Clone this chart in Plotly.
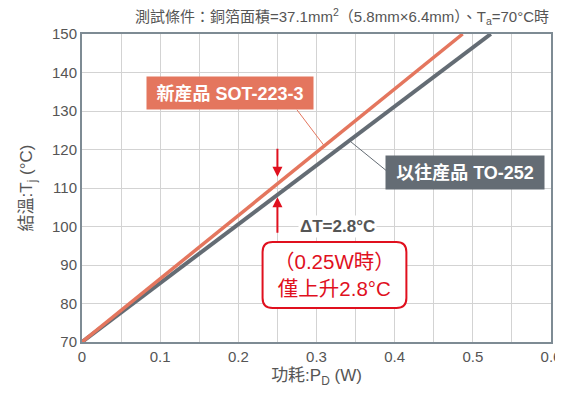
import plotly.graph_objects as go

# Data
pd_w = [0.0, 0.487]          # SOT-223-3 power (W)
tj_new = [70, 150]           # junction temperature (°C)
pd_w_old = [0.0, 0.523]      # TO-252 power (W)
tj_old = [70, 150]
x_ticks = [0, 0.1, 0.2, 0.3, 0.4, 0.5, 0.6]
y_ticks = [70, 80, 90, 100, 110, 120, 130, 140, 150]

ORANGE = "#E4765E"
GRAY = "#646C74"
RED = "#E0101E"
TXT = "#555555"
FONT = "Liberation Sans, Arial, Noto Sans CJK TC, sans-serif"

slope_new = (tj_new[1] - tj_new[0]) / (pd_w[1] - pd_w[0])
slope_old = (tj_old[1] - tj_old[0]) / (pd_w_old[1] - pd_w_old[0])

fig = go.Figure()
fig.add_trace(go.Scatter(x=pd_w_old, y=tj_old, mode="lines",
                         line=dict(color=GRAY, width=4), showlegend=False))
fig.add_trace(go.Scatter(x=pd_w, y=tj_new, mode="lines",
                         line=dict(color=ORANGE, width=3.5), showlegend=False))

# leader lines
xo = 0.31
fig.add_shape(type="line", x0=0.275, y0=130.3, x1=xo, y1=70 + slope_new * xo,
              line=dict(color=ORANGE, width=1))
xg = 0.342
fig.add_shape(type="line", x0=0.39, y0=114.4, x1=xg, y1=70 + slope_old * xg,
              line=dict(color=GRAY, width=1))

# label boxes
fig.add_annotation(x=0.1895, y=134.7, text="<b>新産品 SOT-223-3</b>", showarrow=False,
                   bgcolor=ORANGE, width=166, height=32, borderpad=0,
                   font=dict(color="white", size=18, family=FONT))
fig.add_annotation(x=0.4905, y=114.0, text="<b>以往産品 TO-252</b>", showarrow=False,
                   bgcolor=GRAY, width=158, height=33, borderpad=0,
                   font=dict(color="white", size=18, family=FONT))

# arrows
fig.add_annotation(x=0.25, y=112.9, ax=0.25, ay=120.6, axref="x", ayref="y",
                   showarrow=True, arrowhead=2, arrowsize=1, arrowwidth=2,
                   arrowcolor=RED, text="")
fig.add_annotation(x=0.25, y=107.6, ax=0.25, ay=98.0, axref="x", ayref="y",
                   showarrow=True, arrowhead=2, arrowsize=1, arrowwidth=2,
                   arrowcolor=RED, text="")

fig.add_annotation(x=0.327, y=100.1, text="<b>ΔT=2.8°C</b>", showarrow=False,
                   bgcolor="white", borderpad=1,
                   font=dict(color=TXT, size=17, family=FONT))

# rounded red box
x0, x1, y0, y1 = 0.231, 0.415, 78.8, 96.0
rx, ry = 0.0128, 2.6
path = (f"M {x0+rx},{y0} L {x1-rx},{y0} Q {x1},{y0} {x1},{y0+ry} "
        f"L {x1},{y1-ry} Q {x1},{y1} {x1-rx},{y1} L {x0+rx},{y1} "
        f"Q {x0},{y1} {x0},{y1-ry} L {x0},{y0+ry} Q {x0},{y0} {x0+rx},{y0} Z")
fig.add_shape(type="path", path=path, xref="x", yref="y",
              line=dict(color=RED, width=2), fillcolor="white")
fig.add_annotation(x=(x0 + x1) / 2, y=(y0 + y1) / 2,
                   text="（0.25W時）<br>僅上升2.8°C", showarrow=False,
                   font=dict(color=RED, size=20.5, family=FONT))

# condition text
fig.add_annotation(xref="paper", yref="paper", x=1.0, y=1.0, yshift=18,
                   xanchor="right", yanchor="middle", showarrow=False,
                   text="測試條件：銅箔面積=37.1mm<sup>2</sup>（5.8mm×6.4mm）、T<sub>a</sub>=70°C時",
                   font=dict(color=TXT, size=15, family=FONT))

fig.update_xaxes(range=[0, 0.6], tickvals=x_ticks, ticktext=[f"{v:g}" for v in x_ticks],
                 showgrid=True, gridcolor="#D3D3D3", gridwidth=1,
                 minor=dict(dtick=0.05, showgrid=True, gridcolor="#D3D3D3", gridwidth=1),
                 showline=True, linecolor="#7E8B94", linewidth=2, mirror=True,
                 zeroline=False, ticks="", automargin=False, ticklabeloverflow="allow",
                 tickfont=dict(color=TXT, size=15, family=FONT),
                 title=dict(text="功耗:P<sub>D</sub> (W)",
                            font=dict(color=TXT, size=17, family=FONT)))
fig.update_yaxes(range=[70, 150], tickvals=y_ticks,
                 showgrid=True, gridcolor="#D3D3D3", gridwidth=1,
                 showline=True, linecolor="#7E8B94", linewidth=2, mirror=True,
                 zeroline=False, ticks="", automargin=False,
                 tickfont=dict(color=TXT, size=15, family=FONT),
                 title=dict(text="結溫:T<sub>j</sub> (°C)",
                            font=dict(color=TXT, size=17, family=FONT)))

# page body adds an 8px offset; extra right margin keeps the last tick label inside the svg
fig.update_layout(width=563, height=380, plot_bgcolor="white", paper_bgcolor="white",
                  margin=dict(l=74, r=20, t=26, b=46), showlegend=False)

fig.write_html("out.html")
